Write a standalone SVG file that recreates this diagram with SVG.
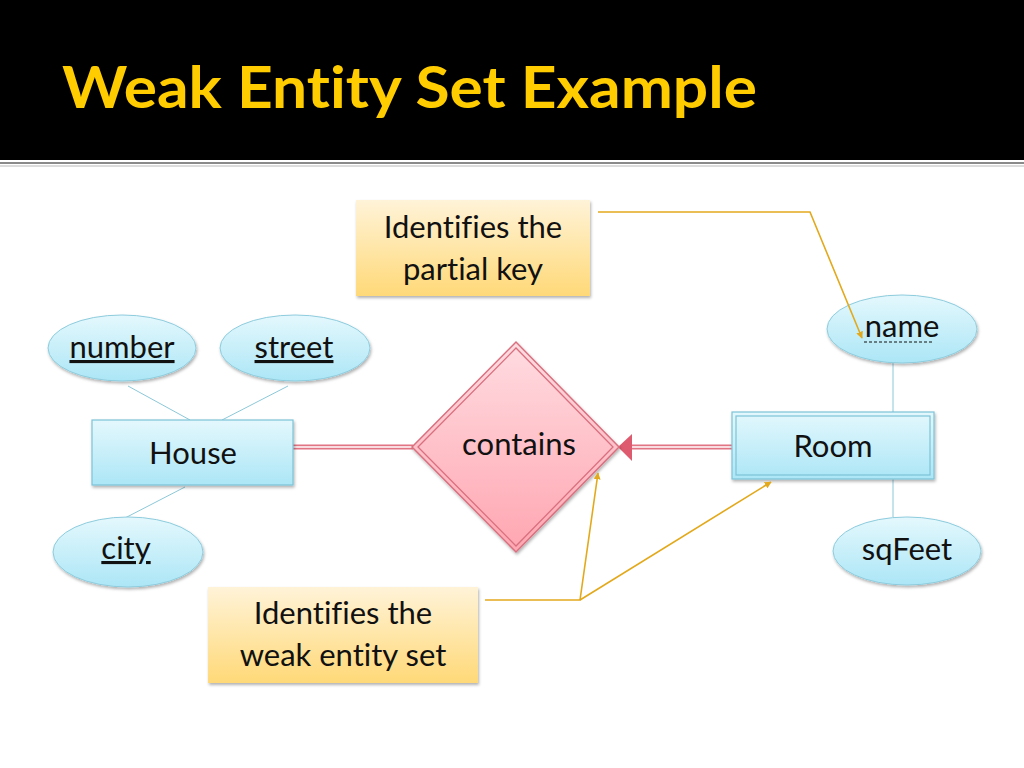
<svg xmlns="http://www.w3.org/2000/svg" width="1024" height="768" viewBox="0 0 1024 768">
<style>
.lbl{font-family:Lato,"Open Sans","Liberation Sans",sans-serif;font-size:31px;fill:#111;text-anchor:middle;font-variant-ligatures:none}
.title{font-family:Lato,"Open Sans","Liberation Sans",sans-serif;font-weight:bold;font-size:58px;fill:#FFCC00;font-variant-ligatures:none}
.ent{fill:url(#gBlue);stroke:#7CC3D8;stroke-width:1.2}
.attr{fill:url(#gBlue);stroke:#8DCCDD;stroke-width:1}
.aline{stroke:#8CC8D8;stroke-width:1;fill:none}
.note{fill:url(#gYel);stroke:none}
.gold{stroke:#E3A91C;stroke-width:1.6;fill:none}
</style>
<defs>
<linearGradient id="gBlue" x1="0" y1="0" x2="0" y2="1">
<stop offset="0" stop-color="#E4F8FD"/>
<stop offset="1" stop-color="#ACE6F6"/>
</linearGradient>
<linearGradient id="gYel" x1="0" y1="0" x2="0" y2="1">
<stop offset="0" stop-color="#FFF3D8"/>
<stop offset="1" stop-color="#FFD978"/>
</linearGradient>
<linearGradient id="gPink" x1="0" y1="0" x2="0" y2="1">
<stop offset="0" stop-color="#FFDCE1"/>
<stop offset="1" stop-color="#FFA6B1"/>
</linearGradient>
<filter id="sh" x="-20%" y="-20%" width="140%" height="150%">
<feDropShadow dx="1" dy="2" stdDeviation="1.6" flood-color="#000" flood-opacity="0.3"/>
</filter>
<marker id="arr" viewBox="0 0 10 10" refX="9" refY="5" markerWidth="7" markerHeight="7" orient="auto" markerUnits="userSpaceOnUse">
<path d="M0,0 L10,5 L0,10 z" fill="#E3A91C"/>
</marker>
</defs>
<rect x="0" y="0" width="1024" height="768" fill="#fff"/>
<rect x="0" y="0" width="1024" height="160" fill="#000"/>
<line x1="0" y1="163" x2="1024" y2="163" stroke="#8a8a8a" stroke-width="2"/>
<line x1="0" y1="166" x2="1024" y2="166" stroke="#d0d0d0" stroke-width="1.5"/>
<text class="title" x="62" y="108" textLength="695" lengthAdjust="spacingAndGlyphs">Weak Entity Set Example</text>

<g id="connectors">
<line class="aline" x1="128" y1="386" x2="190" y2="420"/>
<line class="aline" x1="288" y1="386" x2="222" y2="420"/>
<line class="aline" x1="185" y1="487" x2="125" y2="518"/>
<line class="aline" x1="893" y1="363" x2="893" y2="412"/>
<line class="aline" x1="893" y1="479" x2="893" y2="517"/>
<line x1="293" y1="447" x2="413" y2="447" stroke="#E27584" stroke-width="5"/>
<line x1="293" y1="447" x2="413" y2="447" stroke="#fff" stroke-width="1.4"/>
<line x1="630" y1="447" x2="733" y2="447" stroke="#E27584" stroke-width="5"/>
<line x1="630" y1="447" x2="733" y2="447" stroke="#fff" stroke-width="1.4"/>
<path d="M618,447 L632,434 L632,461 z" fill="#DE5A6E"/>
</g>

<g id="number">
<ellipse class="attr" cx="122" cy="348" rx="74" ry="33" filter="url(#sh)"/>
<text class="lbl" x="122" y="358" text-decoration="underline">number</text>
</g>
<g id="street">
<ellipse class="attr" cx="295" cy="348" rx="75" ry="33" filter="url(#sh)"/>
<text class="lbl" x="294" y="358" text-decoration="underline">street</text>
</g>
<g id="city">
<ellipse class="attr" cx="128" cy="552" rx="75" ry="35" filter="url(#sh)"/>
<text class="lbl" x="126" y="559" text-decoration="underline">city</text>
</g>
<g id="House">
<rect class="ent" x="92" y="420" width="201" height="65" filter="url(#sh)"/>
<text class="lbl" x="193" y="464">House</text>
</g>
<g id="contains">
<path d="M412,447 L516,342 L619,447 L516,552 z" fill="url(#gPink)" stroke="#D9707F" stroke-width="1.5" filter="url(#sh)"/>
<path d="M418,447 L516,348 L613,447 L516,546 z" fill="none" stroke="#D9707F" stroke-width="1.3"/>
<text class="lbl" x="519" y="455">contains</text>
</g>
<g id="Room">
<rect class="ent" x="732" y="412" width="202" height="67" filter="url(#sh)"/>
<rect x="736" y="416" width="194" height="59" fill="none" stroke="#7CC3D8" stroke-width="1.2"/>
<text class="lbl" x="833" y="457">Room</text>
</g>
<g id="name">
<ellipse class="attr" cx="902" cy="329" rx="75" ry="34" filter="url(#sh)"/>
<text class="lbl" x="902" y="337">name</text>
<line x1="864" y1="342" x2="933" y2="342" stroke="#111" stroke-width="1" stroke-dasharray="3,2"/>
</g>
<g id="sqFeet">
<ellipse class="attr" cx="907" cy="551" rx="74" ry="34" filter="url(#sh)"/>
<text class="lbl" x="907" y="560">sqFeet</text>
</g>
<g id="note-partial-key">
<rect class="note" x="356" y="200" width="234" height="96" filter="url(#sh)"/>
<text class="lbl" x="473" y="238">Identifies the</text>
<text class="lbl" x="473" y="280">partial key</text>
</g>
<g id="note-weak-entity">
<rect class="note" x="208" y="587" width="270" height="96" filter="url(#sh)"/>
<text class="lbl" x="343" y="624">Identifies the</text>
<text class="lbl" x="343" y="666">weak entity set</text>
</g>
<g id="callout-connectors">
<polyline class="gold" points="598,212 810,212 862,338" marker-end="url(#arr)"/>
<polyline class="gold" points="485,600 580,600 598,473" marker-end="url(#arr)"/>
<polyline class="gold" points="580,600 771,482" marker-end="url(#arr)"/>
</g>
</svg>
